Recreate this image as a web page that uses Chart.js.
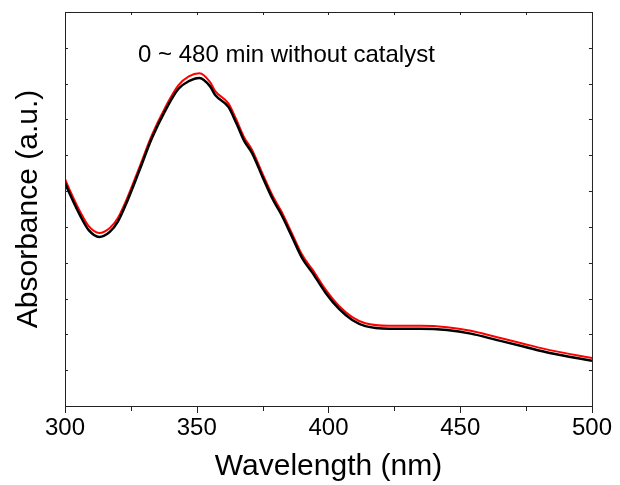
<!DOCTYPE html>
<html>
<head>
<meta charset="utf-8">
<script src="https://cdn.jsdelivr.net/npm/chart.js@4"></script>
<style>
  html, body { margin: 0; padding: 0; background: #fff; }
  #wrap { width: 620px; height: 485px; }
</style>
</head>
<body>
<div id="wrap"><canvas id="grafico" width="620" height="485"></canvas></div>
<script>
// wavelength (nm) and absorbance
const comprimento = [300, 302, 306, 309, 313, 317, 320, 323, 328, 333, 338, 343, 347, 351, 355, 357, 362, 365, 368, 371, 375, 379, 382, 386, 390, 394, 399, 404, 409, 414, 423, 435, 445, 454, 464, 474, 484, 500];
const absPreto = [0.623, 0.589, 0.528, 0.491, 0.472, 0.486, 0.514, 0.561, 0.653, 0.748, 0.824, 0.885, 0.907, 0.916, 0.893, 0.868, 0.835, 0.790, 0.740, 0.706, 0.639, 0.575, 0.536, 0.475, 0.413, 0.371, 0.315, 0.271, 0.240, 0.223, 0.216, 0.216, 0.212, 0.202, 0.184, 0.166, 0.148, 0.126];
const absVermelho = [0.634, 0.600, 0.539, 0.502, 0.483, 0.497, 0.524, 0.570, 0.662, 0.757, 0.833, 0.895, 0.920, 0.929, 0.905, 0.879, 0.845, 0.800, 0.750, 0.715, 0.648, 0.584, 0.545, 0.484, 0.422, 0.380, 0.324, 0.279, 0.248, 0.231, 0.224, 0.224, 0.220, 0.210, 0.192, 0.174, 0.156, 0.134];
const ticksX = [300, 350, 400, 450, 500];
const ticksXMenores = [300, 325, 350, 375, 400, 425, 450, 475, 500];
const anotacao = '0 ~ 480 min without catalyst';

const fonte = '"Liberation Sans", Arial, sans-serif';

const pontos = arr => comprimento.map((x, i) => ({ x: x, y: arr[i] }));

// frame, inward/outward tick marks and the note text
const moldura = {
    id: 'moldura',
    afterDraw(chart) {
        const { ctx, chartArea: a, scales } = chart;
        ctx.save();
        ctx.strokeStyle = '#222';
        ctx.lineWidth = 1;
        ctx.strokeRect(a.left + 0.5, a.top + 0.5, a.right - a.left, a.bottom - a.top);
        ctx.beginPath();
        ticksXMenores.forEach(v => {
            const px = Math.round(scales.x.getPixelForValue(v)) + 0.5;
            const len = v % 50 === 0 ? 7 : 5;
            ctx.moveTo(px, a.bottom);
            ctx.lineTo(px, a.bottom + len);
            ctx.moveTo(px, a.top);
            ctx.lineTo(px, a.top + 3);
        });
        for (let i = 1; i < 11; i++) {
            const py = Math.round(scales.y.getPixelForValue(i / 10)) + 0.5;
            ctx.moveTo(a.left, py);
            ctx.lineTo(a.left + 3, py);
            ctx.moveTo(a.right, py);
            ctx.lineTo(a.right - 3, py);
        }
        ctx.stroke();

        ctx.fillStyle = '#000';
        ctx.font = '24px ' + fonte;
        ctx.textBaseline = 'alphabetic';
        ctx.fillText(anotacao, 138, 62);
        ctx.restore();
    }
};

new Chart(document.getElementById('grafico').getContext('2d'), {
    type: 'line',
    data: {
        datasets: [
            {
                label: '480 min',
                data: pontos(absPreto),
                borderColor: '#000',
                borderWidth: 2.5,
                pointRadius: 0,
                fill: false,
                cubicInterpolationMode: 'monotone'
            },
            {
                label: '0 min',
                data: pontos(absVermelho),
                borderColor: '#ff0000',
                borderWidth: 2,
                pointRadius: 0,
                fill: false,
                cubicInterpolationMode: 'monotone'
            }
        ]
    },
    options: {
        responsive: false,
        animation: false,
        layout: { padding: { top: 12, right: 25, left: 0, bottom: 0 } },
        plugins: {
            legend: { display: false },
            tooltip: { enabled: false }
        },
        scales: {
            x: {
                type: 'linear',
                min: 300,
                max: 500,
                afterBuildTicks: s => { s.ticks = ticksX.map(v => ({ value: v })); },
                afterFit: s => { s.height = 79; },
                grid: { display: false, drawTicks: false },
                border: { display: false },
                ticks: {
                    color: '#000',
                    padding: 8,
                    maxRotation: 0,
                    font: { family: fonte, size: 24 }
                },
                title: {
                    display: true,
                    text: 'Wavelength (nm)',
                    color: '#000',
                    padding: { top: 0, bottom: 0 },
                    font: { family: fonte, size: 30 }
                }
            },
            y: {
                min: 0,
                max: 1.1,
                afterFit: s => { s.width = 65; },
                grid: { display: false, drawTicks: false },
                border: { display: false },
                ticks: { display: false, stepSize: 0.1 },
                title: {
                    display: true,
                    text: 'Absorbance (a.u.)',
                    color: '#000',
                    padding: { top: 11, bottom: 0 },
                    font: { family: fonte, size: 30 }
                }
            }
        }
    },
    plugins: [moldura]
});
</script>
</body>
</html>
